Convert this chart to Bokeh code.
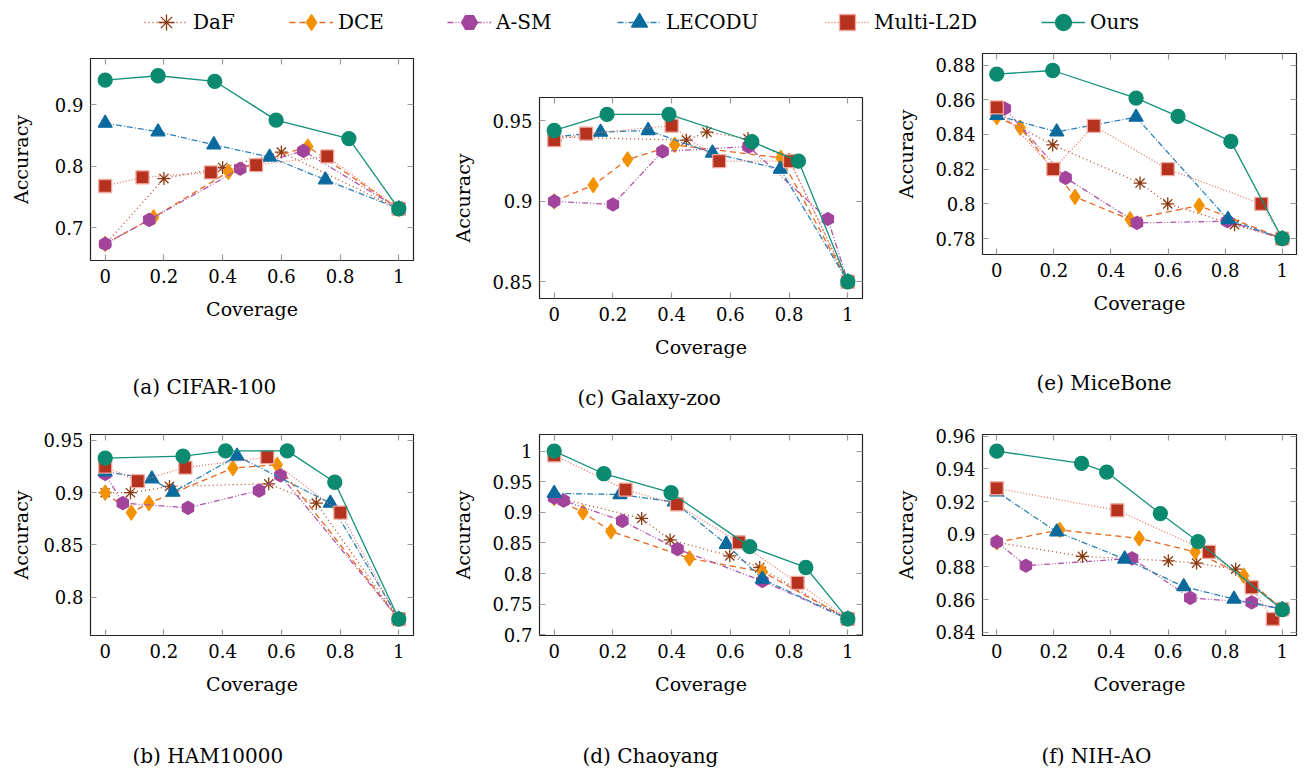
import math
from bokeh.plotting import figure
from bokeh.models import (ColumnDataSource, FixedTicker, LinearAxis, Range1d, Legend,
                          LegendItem, Title, CustomJSTickFormatter)
from bokeh.layouts import row, column
from bokeh.embed import file_html
from bokeh.resources import INLINE

FONT = "DejaVu Serif"
TICK_FS = "18px"
LABEL_FS = "19px"
CAP_FS = "20px"
LEG_FS = "20px"

METHODS = ["DaF", "DCE", "A-SM", "LECODU", "Multi-L2D", "Ours"]
X_TICKS = [0, 0.2, 0.4, 0.6, 0.8, 1]

# (a) CIFAR-100
CIFAR_X = {
    "DaF": [0, 0.2, 0.4, 0.6, 1.0],
    "DCE": [0, 0.165, 0.42, 0.69, 1.0],
    "A-SM": [0, 0.15, 0.46, 0.675, 1.0],
    "LECODU": [0, 0.18, 0.37, 0.56, 0.75, 1.0],
    "Multi-L2D": [0, 0.127, 0.36, 0.514, 0.756, 1.0],
    "Ours": [0, 0.18, 0.373, 0.582, 0.83, 1.0],
}
CIFAR_Y = {
    "DaF": [0.673, 0.780, 0.798, 0.823, 0.731],
    "DCE": [0.674, 0.717, 0.791, 0.832, 0.731],
    "A-SM": [0.674, 0.713, 0.796, 0.825, 0.731],
    "LECODU": [0.870, 0.856, 0.835, 0.815, 0.778, 0.731],
    "Multi-L2D": [0.768, 0.782, 0.790, 0.802, 0.816, 0.731],
    "Ours": [0.940, 0.947, 0.938, 0.875, 0.845, 0.731],
}
CIFAR_YTICKS = [0.7, 0.8, 0.9]

# (c) Galaxy-zoo
GALAXY_X = {
    "DaF": [0, 0.45, 0.52, 0.66, 0.80, 1.0],
    "DCE": [0, 0.133, 0.25, 0.41, 0.772, 1.0],
    "A-SM": [0, 0.2, 0.369, 0.662, 0.932, 1.0],
    "LECODU": [0, 0.158, 0.32, 0.539, 0.77, 1.0],
    "Multi-L2D": [0, 0.109, 0.40, 0.562, 0.803, 1.0],
    "Ours": [0, 0.18, 0.391, 0.673, 0.832, 1.0],
}
GALAXY_Y = {
    "DaF": [0.940, 0.938, 0.943, 0.939, 0.926, 0.85],
    "DCE": [0.900, 0.910, 0.926, 0.935, 0.927, 0.85],
    "A-SM": [0.900, 0.898, 0.931, 0.934, 0.889, 0.85],
    "LECODU": [0.940, 0.943, 0.944, 0.930, 0.920, 0.85],
    "Multi-L2D": [0.938, 0.942, 0.947, 0.925, 0.925, 0.85],
    "Ours": [0.944, 0.954, 0.954, 0.937, 0.925, 0.85],
}
GALAXY_YTICKS = [0.85, 0.9, 0.95]

# (e) MiceBone
MICE_X = {
    "DaF": [0, 0.196, 0.502, 0.599, 0.833, 1.0],
    "DCE": [0, 0.082, 0.274, 0.467, 0.709, 1.0],
    "A-SM": [0.028, 0.241, 0.491, 0.808, 1.0],
    "LECODU": [0, 0.21, 0.488, 0.81, 1.0],
    "Multi-L2D": [0, 0.198, 0.34, 0.599, 0.927, 1.0],
    "Ours": [0, 0.196, 0.488, 0.635, 0.82, 1.0],
}
MICE_Y = {
    "DaF": [0.851, 0.834, 0.812, 0.800, 0.788, 0.78],
    "DCE": [0.850, 0.844, 0.804, 0.791, 0.799, 0.78],
    "A-SM": [0.855, 0.815, 0.789, 0.790, 0.78],
    "LECODU": [0.851, 0.8415, 0.850, 0.791, 0.78],
    "Multi-L2D": [0.8556, 0.820, 0.845, 0.820, 0.800, 0.78],
    "Ours": [0.8748, 0.8769, 0.861, 0.8504, 0.836, 0.78],
}
MICE_YTICKS = [0.78, 0.80, 0.82, 0.84, 0.86, 0.88]

# (b) HAM10000
HAM_X = {
    "DaF": [0, 0.086, 0.219, 0.557, 0.719, 1.0],
    "DCE": [0, 0.089, 0.149, 0.435, 0.586, 1.0],
    "A-SM": [0, 0.06, 0.282, 0.524, 0.597, 1.0],
    "LECODU": [0, 0.159, 0.231, 0.449, 0.767, 1.0],
    "Multi-L2D": [0, 0.111, 0.273, 0.552, 0.801, 1.0],
    "Ours": [0, 0.265, 0.41, 0.62, 0.782, 1.0],
}
HAM_Y = {
    "DaF": [0.900, 0.900, 0.906, 0.9085, 0.890, 0.779],
    "DCE": [0.900, 0.881, 0.890, 0.9235, 0.9267, 0.779],
    "A-SM": [0.918, 0.890, 0.8855, 0.902, 0.9165, 0.779],
    "LECODU": [0.920, 0.9133, 0.9005, 0.935, 0.890, 0.779],
    "Multi-L2D": [0.925, 0.911, 0.924, 0.934, 0.881, 0.779],
    "Ours": [0.933, 0.935, 0.940, 0.940, 0.910, 0.779],
}
HAM_YTICKS = [0.8, 0.85, 0.9, 0.95]

# (d) Chaoyang
CHAO_X = {
    "DaF": [0, 0.298, 0.395, 0.598, 0.70, 1.0],
    "DCE": [0, 0.098, 0.193, 0.461, 0.709, 1.0],
    "A-SM": [0, 0.032, 0.232, 0.42, 0.709, 1.0],
    "LECODU": [0, 0.224, 0.409, 0.586, 0.709, 1.0],
    "Multi-L2D": [0, 0.243, 0.418, 0.629, 0.829, 1.0],
    "Ours": [0, 0.169, 0.398, 0.666, 0.857, 1.0],
}
CHAO_Y = {
    "DaF": [0.925, 0.890, 0.855, 0.829, 0.810, 0.726],
    "DCE": [0.923, 0.900, 0.869, 0.825, 0.803, 0.726],
    "A-SM": [0.924, 0.919, 0.886, 0.840, 0.788, 0.726],
    "LECODU": [0.931, 0.929, 0.917, 0.848, 0.791, 0.726],
    "Multi-L2D": [0.993, 0.937, 0.913, 0.851, 0.785, 0.726],
    "Ours": [1.0, 0.963, 0.932, 0.844, 0.810, 0.726],
}
CHAO_YTICKS = [0.7, 0.75, 0.8, 0.85, 0.9, 0.95, 1.0]

# (f) NIH-AO
NIH_X = {
    "DaF": [0, 0.30, 0.601, 0.70, 0.837, 1.0],
    "DCE": [0, 0.221, 0.499, 0.695, 0.865, 1.0],
    "A-SM": [0, 0.102, 0.474, 0.678, 0.893, 1.0],
    "LECODU": [0, 0.21, 0.448, 0.655, 0.831, 1.0],
    "Multi-L2D": [0, 0.422, 0.743, 0.893, 0.967, 1.0],
    "Ours": [0, 0.297, 0.385, 0.573, 0.705, 1.0],
}
NIH_Y = {
    "DaF": [0.895, 0.8864, 0.8837, 0.8823, 0.8786, 0.854],
    "DCE": [0.895, 0.9026, 0.8974, 0.8892, 0.8746, 0.854],
    "A-SM": [0.8953, 0.8807, 0.8852, 0.861, 0.8583, 0.854],
    "LECODU": [0.926, 0.9014, 0.8848, 0.8679, 0.8603, 0.854],
    "Multi-L2D": [0.9281, 0.9146, 0.8892, 0.8675, 0.8481, 0.854],
    "Ours": [0.9508, 0.9433, 0.938, 0.9126, 0.8955, 0.8538],
}
NIH_YTICKS = [0.84, 0.86, 0.88, 0.90, 0.92, 0.94, 0.96]

STYLE = {
    "DaF": dict(lc="#B04428", dash="1 3", marker="asterisk", fill="#8B3A10", mline="#8B3A10", size=13, angle=0.0),
    "DCE": dict(lc="#E8671C", dash="6 4", marker="diamond", fill="#F39200", mline="#F39200", size=15, angle=0.0),
    "A-SM": dict(lc="#B055A8", dash="6 2 1 2 1 2", marker="hex", fill="#A2449C", mline="#A2449C", size=13, angle=math.pi / 6),
    "LECODU": dict(lc="#2E80B5", dash="6 2 1 2", marker="triangle", fill="#0A6A9E", mline="#0A6A9E", size=14, angle=0.0),
    "Multi-L2D": dict(lc="#E07A6A", dash="1 2", marker="square", fill="#B5321E", mline="#F0AAA0", size=13, angle=0.0),
    "Ours": dict(lc="#13917A", dash="solid", marker="circle", fill="#0B8A6F", mline="#0B8A6F", size=14, angle=0.0),
}

FMT = CustomJSTickFormatter(code="return (Math.round(tick*1000)/1000).toString();")
BLANK = CustomJSTickFormatter(code="return '';")


def add_series(p, m, xs, ys):
    st = STYLE[m]
    src = ColumnDataSource(dict(x=xs, y=ys))
    lr = p.line("x", "y", source=src, line_color=st["lc"], line_width=1.3, line_dash=st["dash"])
    sr = p.scatter("x", "y", source=src, marker=st["marker"], size=st["size"], angle=st["angle"],
                   fill_color=st["fill"], line_color=st["mline"], line_width=1.3)
    return lr, sr


def style_axis(ax, ticks, labels=True):
    ax.ticker = FixedTicker(ticks=ticks)
    ax.major_tick_in = 6
    ax.major_tick_out = 0
    ax.major_tick_line_color = "#9a9a9a"
    ax.major_tick_line_width = 1.2
    ax.minor_tick_line_color = None
    ax.axis_line_color = None
    if labels:
        ax.formatter = FMT
        ax.major_label_text_font = FONT
        ax.major_label_text_font_size = TICK_FS
        ax.major_label_text_color = "black"
        ax.axis_label_text_font = FONT
        ax.axis_label_text_font_size = LABEL_FS
        ax.axis_label_text_font_style = "normal"
        ax.axis_label_text_color = "black"
    else:
        ax.formatter = BLANK
        ax.major_label_text_font_size = "1px"
        ax.major_label_text_color = None
        ax.major_label_standoff = 0


def make_panel(xd, yd, ylo, yhi, yticks, width, height, left, right, top, bottom, ylab_standoff):
    p = figure(width=width, height=height, x_range=Range1d(-0.05, 1.05), y_range=Range1d(ylo, yhi),
               output_backend="svg", toolbar_location=None,
               min_border_left=left, min_border_right=right, min_border_top=top, min_border_bottom=bottom)
    p.grid.visible = False
    p.outline_line_color = "#222222"
    p.outline_line_width = 1.2
    style_axis(p.xaxis[0], X_TICKS)
    style_axis(p.yaxis[0], yticks)
    p.xaxis[0].axis_label = "Coverage"
    p.yaxis[0].axis_label = "Accuracy"
    p.xaxis[0].major_label_standoff = 8
    p.xaxis[0].axis_label_standoff = 12
    p.yaxis[0].major_label_standoff = 7
    p.yaxis[0].axis_label_standoff = ylab_standoff
    ra = LinearAxis()
    style_axis(ra, yticks, labels=False)
    p.add_layout(ra, "right")
    ta = LinearAxis()
    style_axis(ta, X_TICKS, labels=False)
    p.add_layout(ta, "above")
    for m in METHODS:
        add_series(p, m, xd[m], yd[m])
    return p


def make_caption(text, width, height, offset):
    # frame edges line up with the panels of the same column; offset is from that left edge
    c = figure(width=width, height=height, title=None, x_range=Range1d(0, 1), y_range=Range1d(0, 1),
               output_backend="svg", toolbar_location=None, x_axis_location=None, y_axis_location=None,
               min_border_left=0, min_border_right=0, min_border_top=0, min_border_bottom=0)
    c.grid.visible = False
    c.outline_line_color = None
    c.add_layout(Title(text=text, align="left", offset=offset, standoff=0, text_font=FONT,
                       text_font_size=CAP_FS, text_font_style="normal", text_color="black"), "above")
    return c


pa = make_panel(CIFAR_X, CIFAR_Y, 0.647, 0.975, CIFAR_YTICKS, 432, 322, 90, 19, 8, 112, 20)
ca = make_caption("(a) CIFAR-100", 432, 30, 42)
pb = make_panel(HAM_X, HAM_Y, 0.7633, 0.9557, HAM_YTICKS, 432, 339, 90, 19, 32, 106, 8)
cb = make_caption("(b) HAM10000", 432, 26, 42)

pc = make_panel(GALAXY_X, GALAXY_Y, 0.8396, 0.9645, GALAXY_YTICKS, 440, 333, 107, 10, 47, 85, 15)
cc = make_caption("(c) Galaxy-zoo", 440, 30, 38)
pd = make_panel(CHAO_X, CHAO_Y, 0.699, 1.027, CHAO_YTICKS, 440, 328, 107, 10, 21, 106, 15)
cd = make_caption("(d) Chaoyang", 440, 26, 43)

pe = make_panel(MICE_X, MICE_Y, 0.7708, 0.8867, MICE_YTICKS, 426, 318, 110, 2, 3, 114, 15)
ce = make_caption("(e) MiceBone", 426, 30, 54)
pf = make_panel(NIH_X, NIH_Y, 0.838, 0.961, NIH_YTICKS, 426, 343, 110, 2, 36, 106, 15)
cf = make_caption("(f) NIH-AO", 426, 26, 59)

# legend strip (proxy renderers reuse panel (a) data, kept outside the visible range)
lg = figure(width=1298, height=50, x_range=Range1d(10, 11), y_range=Range1d(10, 11),
            output_backend="svg", toolbar_location=None, x_axis_location=None, y_axis_location=None,
            min_border_left=0, min_border_right=0, min_border_top=0, min_border_bottom=0)
lg.grid.visible = False
lg.outline_line_color = None
LEG_X = [144, 289, 447, 617, 825, 1041]
for m, lx in zip(METHODS, LEG_X):
    lr, sr = add_series(lg, m, CIFAR_X[m], CIFAR_Y[m])
    leg = Legend(items=[LegendItem(label=m, renderers=[lr, sr])], location=(lx, 8),
                 orientation="horizontal", glyph_width=44, glyph_height=40, label_standoff=5,
                 padding=0, margin=0, border_line_color=None, background_fill_alpha=0,
                 label_text_font=FONT, label_text_font_size=LEG_FS, label_text_color="black")
    lg.add_layout(leg, "center")

layout = column(lg, row(column(pa, ca, pb, cb), column(pc, cc, pd, cd), column(pe, ce, pf, cf)))

open("out.html", "w").write(file_html(layout, INLINE))
